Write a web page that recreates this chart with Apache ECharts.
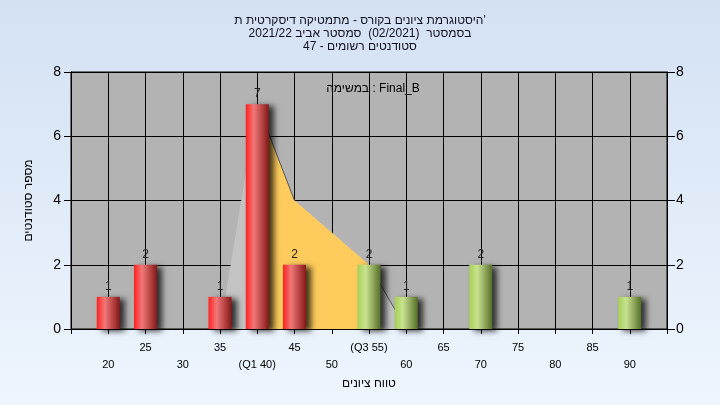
<!DOCTYPE html>
<html>
<head>
<meta charset="utf-8">
<script src="https://cdn.jsdelivr.net/npm/echarts@6/dist/echarts.min.js"></script>
<style>
html,body{margin:0;padding:0;}
#c{width:720px;height:405px;background:linear-gradient(to bottom,#d3e1f3 0%,#eef5fd 100%);}
</style>
</head>
<body>
<div id="c"></div>
<script>
// ---- data ----
const titleLines = ["היסטוגרמת ציונים בקורס - מתמטיקה דיסקרטית ת'", "בסמסטר  (02/2021)  סמסטר אביב 2021/22", "סטודנטים רשומים - 47"];
const legendText = "במשימה : Final_B";
const xAxisName = "טווח ציונים";
const yAxisName = "מספר סטודנטים";
const binStarts = [20, 25, 35, 40, 45, 55, 60, 70, 90];
const counts = [1, 2, 1, 7, 2, 2, 1, 2, 1];
const barGroups = ["low", "low", "low", "low", "low", "high", "high", "high", "high"];
const q1 = 40, q3 = 55;
const curveX = [35, 40, 45, 55, 60];
const curveY = [0, 7, 4, 2, 0];
const tickValues = [20, 25, 30, 35, 40, 45, 50, 55, 60, 65, 70, 75, 80, 85, 90];
const tickTexts = ["20", "25", "30", "35", "(Q1 40)", "45", "50", "(Q3 55)", "60", "65", "70", "75", "80", "85", "90"];

// ---- styles ----
const FONT = "Liberation Sans";
function grad(c1, c2, c3) {
  return new echarts.graphic.LinearGradient(0, 0, 1, 0, [
    {offset: 0, color: c1}, {offset: 0.35, color: c2}, {offset: 1, color: c3}
  ]);
}
const barFill = {
  low: grad('#ff2020', '#f07878', '#861818'),
  high: grad('#a6d055', '#c9e290', '#566f28')
};

const curveData = curveX.map((x, i) => [x, curveY[i]]);
const midData = curveData.filter(p => p[0] >= q1 && p[0] <= q3);
const edgeLine = [];
curveData.forEach((p, i) => {
  if (i > 0 && (curveData[i - 1][0] === q1 || curveData[i - 1][0] === q3)) {
    if (edgeLine.length) edgeLine.push([(curveData[i - 1][0] + edgeLine[edgeLine.length - 1][0]) / 2, '-']);
    edgeLine.push(curveData[i - 1], p);
  }
});

const barData = binStarts.map((x, i) => ({
  value: [x, counts[i]],
  itemStyle: {color: barFill[barGroups[i]]}
}));

const chart = echarts.init(document.getElementById('c'), null, {renderer: 'canvas'});
chart.setOption({
  animation: false,
  backgroundColor: 'transparent',
  textStyle: {fontFamily: FONT},
  title: [{
    text: titleLines.join('\n'),
    left: 'center', top: 9,
    textStyle: {fontSize: 12, fontWeight: 'normal', color: '#101020', lineHeight: 13, fontFamily: FONT}
  }, {
    text: legendText,
    left: 368, top: 78, textAlign: 'center',
    textStyle: {fontSize: 12, fontWeight: 'normal', color: '#000', fontFamily: FONT}
  }],
  grid: {
    left: 71, right: 53, top: 72, bottom: 76,
    show: true, backgroundColor: '#b3b3b3', borderColor: '#000', borderWidth: 1
  },
  xAxis: {
    type: 'value', min: 15, max: 95, interval: 5,
    name: xAxisName, nameLocation: 'middle', nameGap: 49,
    nameTextStyle: {fontSize: 12, color: '#000', fontFamily: FONT},
    axisLine: {show: true, lineStyle: {color: '#000'}},
    axisTick: {show: true, length: 5, lineStyle: {color: '#000'}},
    splitLine: {show: true, lineStyle: {color: '#000', width: 1}},
    axisLabel: {
      fontSize: 11, color: '#000', margin: 10, lineHeight: 17, fontFamily: FONT,
      showMinLabel: true, showMaxLabel: true,
      formatter: function (v) {
        const i = tickValues.indexOf(v);
        if (i < 0) return '';
        return (i % 2 === 0) ? '\n' + tickTexts[i] : tickTexts[i];
      }
    }
  },
  yAxis: [{
    type: 'value', min: 0, max: 8, interval: 2, position: 'left',
    name: yAxisName, nameLocation: 'middle', nameGap: 36, nameRotate: 90,
    nameTextStyle: {fontSize: 12, color: '#000', fontFamily: FONT},
    axisLine: {show: true, lineStyle: {color: '#000'}},
    axisTick: {show: true, length: 7, lineStyle: {color: '#000'}},
    axisLabel: {fontSize: 14, color: '#000', margin: 10, fontFamily: FONT},
    splitLine: {show: true, lineStyle: {color: '#000', width: 1}}
  }, {
    type: 'value', min: 0, max: 8, interval: 2, position: 'right',
    axisLine: {show: true, lineStyle: {color: '#000'}},
    axisTick: {show: true, length: 8, lineStyle: {color: '#000'}},
    axisLabel: {fontSize: 14, color: '#000', margin: 9, fontFamily: FONT},
    splitLine: {show: false}
  }],
  series: [{
    type: 'line', data: curveData, symbol: 'none', z: 1,
    lineStyle: {width: 0}, areaStyle: {color: '#c3c3c3', opacity: 1}
  }, {
    type: 'line', data: midData, symbol: 'none', z: 2,
    lineStyle: {width: 0}, areaStyle: {color: '#fecb5c', opacity: 1}
  }, {
    type: 'line', data: edgeLine, symbol: 'none', z: 3, connectNulls: false,
    lineStyle: {width: 1, color: '#555'}
  }, {
    type: 'bar', data: barData, barWidth: 23, z: 5,
    itemStyle: {shadowColor: 'rgba(0,0,0,0.75)', shadowBlur: 6, shadowOffsetX: 5, shadowOffsetY: 2},
    label: {show: true, position: 'top', distance: 4, fontSize: 12, color: '#222', fontFamily: FONT,
      formatter: p => p.value[1]}
  }]
});
</script>
</body>
</html>
